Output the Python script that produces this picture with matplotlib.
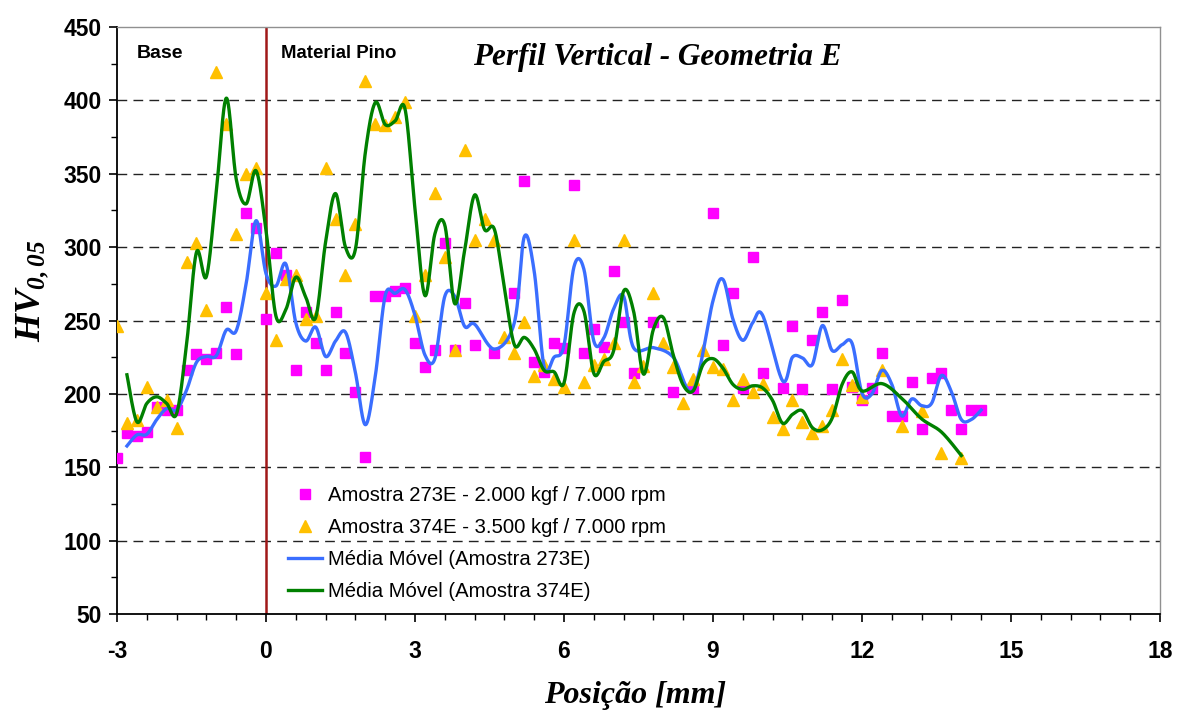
import numpy as np
import matplotlib
matplotlib.use("Agg")
import matplotlib.pyplot as plt
from matplotlib.ticker import MultipleLocator

# Microhardness profile, sample 273E (2.000 kgf / 7.000 rpm)
pos_273 = [-3.0, -2.8, -2.6, -2.4, -2.2, -2.0, -1.8, -1.6, -1.4, -1.2, -1.0, -0.8,
           -0.6, -0.4, -0.2, 0.0, 0.2, 0.4, 0.6, 0.8, 1.0, 1.2, 1.4, 1.6, 1.8, 2.0,
           2.2, 2.4, 2.6, 2.8, 3.0, 3.2, 3.4, 3.6, 3.8, 4.0, 4.2, 4.6, 5.0, 5.2,
           5.4, 5.6, 5.8, 6.0, 6.2, 6.4, 6.6, 6.8, 7.0, 7.2, 7.4, 7.8, 8.2, 8.6,
           9.0, 9.2, 9.4, 9.6, 9.8, 10.0, 10.4, 10.6, 10.8, 11.0, 11.2, 11.4, 11.6,
           11.8, 12.0, 12.2, 12.4, 12.6, 12.8, 13.0, 13.2, 13.4, 13.6, 13.8, 14.0,
           14.2, 14.4]
hv_273 = [156, 173, 171, 174, 191, 189, 189, 216, 227, 224, 228, 259,
          227, 323, 313, 251, 296, 281, 216, 256, 235, 216, 256, 228, 201, 157,
          267, 267, 270, 272, 235, 218, 230, 303, 230, 262, 233, 228, 269, 345,
          222, 215, 235, 231, 342, 228, 244, 232, 284, 249, 214, 249, 201, 204,
          323, 233, 269, 204, 293, 214, 204, 246, 203, 237, 256, 203, 264,
          205, 196, 204, 228, 185, 185, 208, 176, 211, 214, 189, 176,
          189, 189]

# Microhardness profile, sample 374E (3.500 kgf / 7.000 rpm)
pos_374 = [-3.0, -2.8, -2.6, -2.4, -2.2, -2.0, -1.8, -1.6, -1.4, -1.2, -1.0, -0.8,
           -0.6, -0.4, -0.2, 0.0, 0.2, 0.4, 0.6, 0.8, 1.0, 1.2, 1.4, 1.6, 1.8, 2.0,
           2.2, 2.4, 2.6, 2.8, 3.0, 3.2, 3.4, 3.6, 3.8, 4.0, 4.2, 4.4, 4.6, 4.8,
           5.0, 5.2, 5.4, 5.6, 5.8, 6.0, 6.2, 6.4, 6.6, 6.8, 7.0, 7.2, 7.4, 7.6,
           7.8, 8.0, 8.2, 8.4, 8.6, 8.8, 9.0, 9.2, 9.4, 9.6, 9.8, 10.0, 10.2, 10.4,
           10.6, 10.8, 11.0, 11.2, 11.4, 11.6, 11.8, 12.0, 12.4, 12.8, 13.2, 13.6,
           14.0]
hv_374 = [246, 180, 182, 205, 191, 196, 177, 290, 303, 257, 419, 384,
          309, 350, 354, 269, 237, 278, 281, 251, 253, 354, 319, 281, 316, 413,
          384, 383, 389, 399, 253, 281, 337, 293, 230, 366, 305, 319, 305, 239,
          228, 249, 212, 220, 210, 205, 305, 208, 220, 224, 235, 305, 208, 219,
          269, 235, 218, 194, 210, 230, 218, 217, 196, 210, 201, 207, 184, 176,
          196, 181, 173, 178, 189, 224, 206, 198, 216, 178, 188, 160,
          156]

x_ticks = [-3, 0, 3, 6, 9, 12, 15, 18]
y_ticks = [50, 100, 150, 200, 250, 300, 350, 400, 450]

label_273 = "Amostra 273E - 2.000 kgf / 7.000 rpm"
label_374 = "Amostra 374E - 3.500 kgf / 7.000 rpm"
label_ma_273 = "Média Móvel (Amostra 273E)"
label_ma_374 = "Média Móvel (Amostra 374E)"


def moving_average(x, y, period=2):
    x = np.asarray(x, float)
    y = np.asarray(y, float)
    kernel = np.ones(period) / period
    return x[period - 1:], np.convolve(y, kernel, mode="valid")


def smooth_curve(x, y, steps=24):
    """Bezier smoothing through every point (control points at 1/6 of the neighbour chord)."""
    pts = np.column_stack([x, y]).astype(float)
    ext = np.vstack([pts[0], pts, pts[-1]])
    t = np.linspace(0, 1, steps, endpoint=False)[:, None]
    segs = []
    for i in range(len(pts) - 1):
        p0, p1, p2, p3 = ext[i], ext[i + 1], ext[i + 2], ext[i + 3]
        c1 = p1 + (p2 - p0) / 6.0
        c2 = p2 - (p3 - p1) / 6.0
        segs.append((1 - t) ** 3 * p1 + 3 * (1 - t) ** 2 * t * c1
                    + 3 * (1 - t) * t ** 2 * c2 + t ** 3 * p2)
    segs.append(pts[-1:])
    out = np.vstack(segs)
    return out[:, 0], out[:, 1]


plt.rcParams["axes.unicode_minus"] = False
plt.rcParams["mathtext.fontset"] = "custom"
plt.rcParams["mathtext.rm"] = "Liberation Serif:bold:italic"
plt.rcParams["mathtext.it"] = "Liberation Serif:bold:italic"
plt.rcParams["mathtext.bf"] = "Liberation Serif:bold:italic"

fig = plt.figure(figsize=(11.77, 7.11), dpi=100)
ax = fig.add_axes([117 / 1177, 1 - 614 / 711, 1043 / 1177, 587 / 711])

ax.set_xlim(-3, 18)
ax.set_ylim(50, 450)

# dashed horizontal grid
for yv in y_ticks[1:-1]:
    ax.axhline(yv, color="#222222", lw=1.0, ls=(0, (7, 4.5)), zorder=1)

# interface between base and pin material
ax.axvline(0, color="#A01818", lw=1.8, zorder=2)

ax.plot(pos_273, hv_273, ls="none", marker="s", ms=7, color="#FF00FF",
        mec="#FF00FF", label=label_273, zorder=3)
ax.plot(pos_374, hv_374, ls="none", marker="^", ms=8.5, color="#FFC000",
        mec="#FFC000", label=label_374, zorder=4)

mx, my = moving_average(pos_273, hv_273)
sx, sy = smooth_curve(mx, my)
ax.plot(sx, sy, color="#3A6EFF", lw=2.4, label=label_ma_273, zorder=5)

mx, my = moving_average(pos_374, hv_374)
sx, sy = smooth_curve(mx, my)
ax.plot(sx, sy, color="#008000", lw=2.4, label=label_ma_374, zorder=6)

# axes styling
for side in ("top", "right"):
    ax.spines[side].set_color("#909090")
    ax.spines[side].set_linewidth(1.0)
for side in ("left", "bottom"):
    ax.spines[side].set_color("black")
    ax.spines[side].set_linewidth(1.3)

ax.set_xticks(x_ticks)
ax.set_yticks(y_ticks)
ax.xaxis.set_minor_locator(MultipleLocator(0.6))
ax.yaxis.set_minor_locator(MultipleLocator(25))
ax.tick_params(axis="both", which="major", direction="out", length=6, width=1.2,
               labelsize=16.5)
ax.tick_params(axis="both", which="minor", direction="out", length=4, width=1.0)
ax.tick_params(axis="x", which="major", pad=13)
ax.tick_params(axis="y", which="major", pad=5)
ax.tick_params(top=False, right=False, which="both")
for lab in ax.get_xticklabels() + ax.get_yticklabels():
    lab.set_fontweight("bold")
    lab.set_family("Liberation Sans")

ax.set_xlabel("Posição [mm]", family="Liberation Serif", style="italic",
              weight="bold", fontsize=23)
ax.xaxis.set_label_coords(0.497, -0.114)
ax.set_ylabel(r"$HV_{0,05}$", fontsize=26)
ax.yaxis.set_label_coords(-0.063, 0.55)

ax.text(-2.6, 432, "Base", family="Liberation Sans", weight="bold",
        fontsize=14, va="center", ha="left")
ax.text(0.3, 432, "Material Pino", family="Liberation Sans", weight="bold",
        fontsize=13.4, va="center", ha="left")
ax.text(7.87, 429, "Perfil Vertical - Geometria E", family="Liberation Serif",
        style="italic", weight="bold", fontsize=22.4, va="center", ha="center")

leg = ax.legend(loc="upper left", bbox_to_anchor=(0.164, 0.218), frameon=False,
                prop={"family": "Liberation Sans", "size": 14.6},
                handlelength=1.65, handletextpad=0.3, labelspacing=0.64,
                borderaxespad=0.0, borderpad=0.0)

fig.savefig("out.png", dpi=100)
